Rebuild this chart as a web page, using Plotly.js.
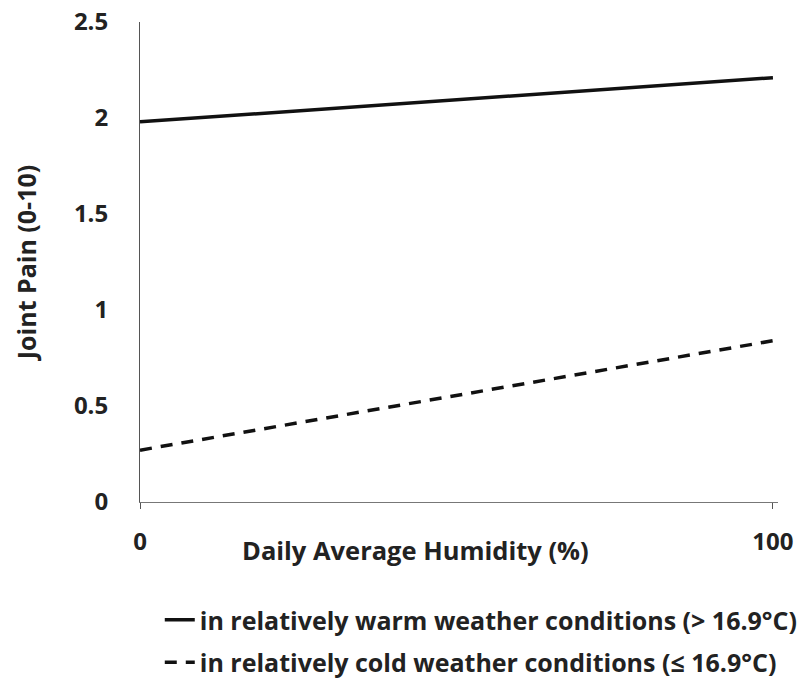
<!DOCTYPE html>
<html><head><meta charset="utf-8">
<script src="https://cdn.plot.ly/plotly-3.0.1.min.js"></script>
<style>body{margin:0;background:#fff}#chart{width:800px;height:679px}</style>
</head><body><div id="chart"></div>
<script>
const humidity = [0, 100];
const warmPain = [1.98, 2.21];
const coldPain = [0.27, 0.84];
const warmName = 'in relatively warm weather conditions (> 16.9°C)';
const coldName = 'in relatively cold weather conditions (≤ 16.9°C)';
const xTicks = [0, 100];
const yTicks = [0, 0.5, 1, 1.5, 2, 2.5];
const yTickText = ['0', '0.5', '1', '1.5', '2', '2.5'];

const font = '"Open Sans", sans-serif';
const traces = [
  {x: humidity, y: warmPain, name: warmName, legendgroup: 'warm', mode: 'lines', line: {color: '#111', width: 3.5, dash: 'solid'}},
  {x: humidity, y: coldPain, name: coldName, legendgroup: 'cold', mode: 'lines', line: {color: '#111', width: 3.5, dash: '12px,9px'}}
];
const layout = {
  width: 800, height: 679,
  margin: {l: 140, r: 22, t: 22, b: 177, autoexpand: false},
  paper_bgcolor: '#fff', plot_bgcolor: '#fff',
  font: {family: font, color: '#222', size: 20, weight: 'bold'},
  showlegend: true,
  legend: {x: 0.031, y: -0.198, xanchor: 'left', yanchor: 'top', orientation: 'v',
           font: {size: 25, family: font, weight: 'bold', color: '#222'}, tracegroupgap: 7, itemwidth: 30},
  xaxis: {range: [0, 100.8], tickvals: xTicks, ticktext: xTicks.map(String), showgrid: false, zeroline: false,
          showline: true, linecolor: '#777', linewidth: 1, ticks: 'outside', ticklen: 6, tickcolor: '#555',
          ticklabelstandoff: 12, tickfont: {size: 24, family: font, weight: 'bold', color: '#222'}},
  yaxis: {range: [0, 2.5], tickvals: yTicks, ticktext: yTickText, showgrid: false, zeroline: false,
          showline: true, linecolor: '#555', linewidth: 1, ticks: '', ticklabelstandoff: 26,
          tickfont: {size: 24, family: font, weight: 'bold', color: '#222'},
          title: {text: 'Joint Pain (0-10)', font: {size: 25, family: font, weight: 'bold', color: '#222'}, standoff: 30}},
  annotations: [
    {text: 'Daily Average Humidity (%)', xref: 'paper', yref: 'paper', x: (415-140)/638, y: -0.1, xanchor: 'center', yanchor: 'middle',
     showarrow: false, font: {size: 25.5, family: font, weight: 'bold', color: '#222'}}
  ]
};
Plotly.newPlot('chart', traces, layout, {displayModeBar: false});
</script></body></html>
